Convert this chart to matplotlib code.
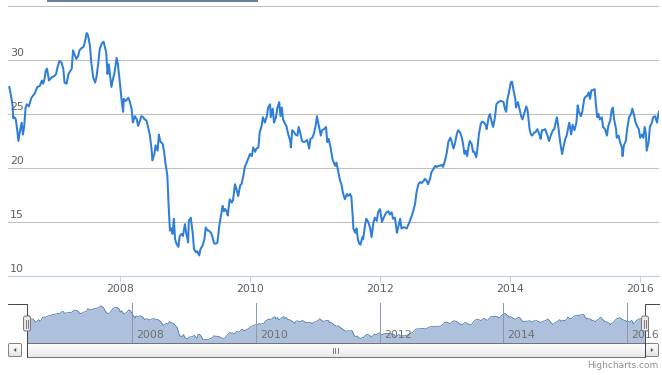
import matplotlib
matplotlib.use("Agg")
import matplotlib.pyplot as plt
import numpy as np
from matplotlib.patches import Rectangle, FancyBboxPatch, Polygon

# weekly-ish closing prices (decimal year, value)
dates = [
    2006.30, 2006.32, 2006.35, 2006.36, 2006.38, 2006.40, 2006.42, 2006.44, 2006.46, 2006.49,
    2006.51, 2006.53, 2006.55, 2006.57, 2006.60, 2006.64, 2006.69, 2006.73, 2006.77, 2006.80,
    2006.82, 2006.84, 2006.86, 2006.88, 2006.91, 2006.95, 2006.99, 2007.02, 2007.04, 2007.07,
    2007.10, 2007.13, 2007.15, 2007.18, 2007.21, 2007.23, 2007.26, 2007.28, 2007.31, 2007.33,
    2007.36, 2007.38, 2007.41, 2007.44, 2007.46, 2007.49, 2007.51, 2007.54, 2007.56, 2007.59,
    2007.62, 2007.64, 2007.67, 2007.69, 2007.72, 2007.75, 2007.79, 2007.81, 2007.83, 2007.87,
    2007.90, 2007.92, 2007.95, 2007.97, 2008.00, 2008.03, 2008.05, 2008.06, 2008.09, 2008.13,
    2008.15, 2008.18, 2008.20, 2008.23, 2008.26, 2008.28, 2008.31, 2008.33, 2008.36, 2008.38,
    2008.41, 2008.44, 2008.46, 2008.49, 2008.50, 2008.53, 2008.55, 2008.58, 2008.60, 2008.62,
    2008.66, 2008.68, 2008.70, 2008.73, 2008.75, 2008.77, 2008.79, 2008.81, 2008.83, 2008.85,
    2008.87, 2008.90, 2008.92, 2008.95, 2008.97, 2009.00, 2009.02, 2009.05, 2009.06, 2009.09,
    2009.12, 2009.14, 2009.17, 2009.19, 2009.22, 2009.24, 2009.27, 2009.30, 2009.32, 2009.35,
    2009.37, 2009.40, 2009.42, 2009.45, 2009.48, 2009.50, 2009.53, 2009.55, 2009.58, 2009.60,
    2009.62, 2009.64, 2009.66, 2009.68, 2009.69, 2009.72, 2009.74, 2009.77, 2009.79, 2009.82,
    2009.85, 2009.87, 2009.90, 2009.92, 2009.95, 2009.97, 2010.00, 2010.03, 2010.05, 2010.08,
    2010.10, 2010.13, 2010.15, 2010.18, 2010.20, 2010.23, 2010.26, 2010.28, 2010.31, 2010.32,
    2010.35, 2010.37, 2010.40, 2010.42, 2010.45, 2010.47, 2010.49, 2010.51, 2010.54, 2010.56,
    2010.59, 2010.62, 2010.63, 2010.65, 2010.68, 2010.70, 2010.73, 2010.75, 2010.78, 2010.80,
    2010.83, 2010.86, 2010.88, 2010.91, 2010.93, 2010.96, 2010.98, 2011.01, 2011.03, 2011.06,
    2011.09, 2011.11, 2011.14, 2011.17, 2011.19, 2011.21, 2011.24, 2011.27, 2011.31, 2011.33,
    2011.36, 2011.38, 2011.41, 2011.43, 2011.46, 2011.49, 2011.51, 2011.54, 2011.56, 2011.58,
    2011.59, 2011.62, 2011.64, 2011.66, 2011.68, 2011.70, 2011.73, 2011.74, 2011.77, 2011.79,
    2011.82, 2011.85, 2011.87, 2011.90, 2011.92, 2011.95, 2011.97, 2012.00, 2012.03, 2012.05,
    2012.08, 2012.10, 2012.13, 2012.15, 2012.18, 2012.20, 2012.23, 2012.26, 2012.28, 2012.31,
    2012.33, 2012.36, 2012.38, 2012.41, 2012.44, 2012.46, 2012.49, 2012.51, 2012.54, 2012.56,
    2012.59, 2012.62, 2012.64, 2012.67, 2012.69, 2012.72, 2012.74, 2012.77, 2012.79, 2012.82,
    2012.85, 2012.87, 2012.90, 2012.92, 2012.95, 2012.97, 2013.00, 2013.03, 2013.05, 2013.08,
    2013.10, 2013.13, 2013.15, 2013.18, 2013.20, 2013.23, 2013.26, 2013.28, 2013.30, 2013.32,
    2013.34, 2013.36, 2013.38, 2013.41, 2013.43, 2013.45, 2013.48, 2013.50, 2013.52, 2013.55,
    2013.57, 2013.60, 2013.63, 2013.64, 2013.67, 2013.69, 2013.72, 2013.74, 2013.77, 2013.79,
    2013.82, 2013.85, 2013.87, 2013.90, 2013.92, 2013.94, 2013.96, 2013.98, 2014.01, 2014.03,
    2014.05, 2014.08, 2014.09, 2014.12, 2014.14, 2014.17, 2014.19, 2014.22, 2014.25, 2014.27,
    2014.30, 2014.32, 2014.34, 2014.37, 2014.39, 2014.42, 2014.45, 2014.47, 2014.49, 2014.52,
    2014.54, 2014.57, 2014.60, 2014.63, 2014.66, 2014.68, 2014.69, 2014.72, 2014.74, 2014.77,
    2014.80, 2014.82, 2014.85, 2014.87, 2014.90, 2014.91, 2014.94, 2014.96, 2014.99, 2015.02,
    2015.04, 2015.06, 2015.09, 2015.11, 2015.14, 2015.16, 2015.19, 2015.21, 2015.23, 2015.25,
    2015.27, 2015.30, 2015.32, 2015.34, 2015.36, 2015.38, 2015.41, 2015.43, 2015.46, 2015.49,
    2015.51, 2015.54, 2015.56, 2015.58, 2015.60, 2015.63, 2015.64, 2015.67, 2015.69, 2015.72,
    2015.73, 2015.75, 2015.78, 2015.80, 2015.83, 2015.86, 2015.88, 2015.91, 2015.93, 2015.96,
    2015.98, 2016.00, 2016.03, 2016.05, 2016.07, 2016.09, 2016.10, 2016.13, 2016.15, 2016.18,
    2016.20, 2016.23, 2016.26, 2016.28, 2016.29,
]
prices = [
    27.5, 26.9, 25.8, 24.6, 24.7, 24.5, 23.6, 22.5, 23.3, 24.2,
    23.1, 23.9, 25.6, 25.9, 25.7, 26.5, 26.9, 27.5, 27.6, 28.1,
    27.8, 28.2, 29.0, 29.2, 28.1, 28.4, 28.5, 28.7, 29.3, 29.9,
    29.8, 29.2, 27.9, 27.8, 28.7, 28.9, 29.2, 30.9, 30.4, 30.1,
    30.4, 30.9, 31.1, 31.2, 31.6, 32.5, 32.3, 31.3, 29.8, 28.4,
    27.9, 28.4, 29.8, 31.0, 31.5, 31.7, 30.7, 28.7, 29.6, 27.5,
    28.4, 28.9, 30.2, 29.6, 27.9, 26.1, 25.2, 26.4, 26.2, 26.5,
    26.2, 25.5, 24.2, 24.8, 24.5, 23.9, 24.4, 24.8, 24.7, 24.5,
    24.4, 23.6, 23.1, 21.6, 20.7, 21.3, 22.1, 21.6, 23.1, 22.5,
    22.2, 21.5, 20.5, 19.3, 16.5, 14.2, 14.4, 13.9, 15.3, 13.4,
    13.0, 12.7, 13.7, 13.9, 13.7, 14.8, 14.0, 13.1, 15.1, 15.4,
    14.0, 12.5, 12.2, 12.3, 11.9, 12.5, 12.8, 13.4, 14.5, 14.2,
    14.2, 14.0, 13.7, 13.0, 13.0, 13.1, 14.7, 15.4, 16.5, 16.0,
    16.2, 16.0, 15.6, 16.7, 17.1, 16.8, 17.0, 18.5, 18.1, 17.4,
    18.4, 18.5, 19.3, 20.1, 20.5, 20.8, 21.3, 21.1, 21.9, 21.5,
    21.8, 21.9, 23.3, 23.9, 24.7, 24.2, 24.8, 25.6, 25.9, 24.7,
    25.5, 24.2, 24.7, 25.5, 26.1, 24.8, 25.6, 24.5, 24.1, 23.9,
    23.1, 22.5, 21.9, 23.5, 23.3, 23.1, 23.0, 23.8, 23.1, 22.5,
    22.4, 22.5, 22.6, 21.8, 22.7, 22.8, 23.1, 23.9, 24.8, 23.9,
    23.0, 23.5, 23.6, 23.8, 22.4, 22.7, 21.9, 20.8, 20.2, 20.5,
    19.6, 19.0, 18.4, 17.7, 17.1, 17.6, 17.4, 17.6, 17.3, 15.6,
    14.4, 14.0, 14.4, 13.4, 13.0, 12.9, 13.6, 13.4, 14.7, 15.3,
    15.0, 14.4, 13.6, 15.0, 15.4, 15.1, 15.9, 16.2, 15.0, 15.3,
    15.7, 15.9, 16.0, 15.7, 15.9, 15.3, 15.4, 14.0, 14.5, 15.3,
    14.4, 14.5, 14.5, 14.4, 14.8, 15.1, 15.6, 16.0, 16.7, 17.7,
    18.5, 18.7, 18.6, 18.8, 19.0, 18.8, 18.5, 19.0, 19.6, 19.9,
    20.2, 20.1, 20.2, 20.2, 20.3, 20.1, 20.7, 21.5, 22.4, 22.8,
    22.5, 21.8, 22.2, 23.1, 23.5, 23.3, 22.8, 22.1, 21.3, 21.6,
    21.1, 21.9, 22.5, 22.2, 21.5, 21.5, 21.0, 21.9, 23.1, 24.1,
    24.3, 24.2, 23.9, 23.6, 24.7, 25.0, 24.2, 23.8, 24.8, 25.9,
    26.1, 26.2, 26.2, 26.1, 25.5, 25.2, 26.4, 26.9, 27.9, 28.0,
    27.3, 26.4, 25.6, 26.1, 25.6, 24.8, 24.5, 25.1, 25.7, 25.3,
    23.6, 23.1, 23.0, 23.3, 23.3, 23.6, 23.1, 22.7, 23.5, 23.5,
    23.6, 23.1, 22.5, 23.1, 23.5, 23.6, 23.9, 24.7, 23.9, 22.4,
    21.3, 21.9, 22.7, 23.0, 23.9, 24.2, 23.1, 24.0, 23.5, 24.2,
    25.8, 25.2, 24.8, 25.2, 26.4, 26.6, 26.7, 27.0, 26.4, 27.2,
    27.2, 27.3, 25.9, 24.7, 25.0, 24.5, 24.7, 23.8, 23.6, 23.0,
    23.9, 24.4, 25.3, 25.6, 24.5, 23.6, 22.8, 23.0, 22.4, 21.9,
    21.1, 22.1, 22.5, 23.6, 24.7, 25.0, 25.5, 24.8, 24.2, 23.8,
    23.6, 22.8, 23.1, 22.8, 23.8, 23.1, 21.6, 22.4, 23.8, 24.2,
    24.7, 24.8, 24.2, 25.0, 25.2,
]
y_ticks = [10, 15, 20, 25, 30, 35]
x_ticks = [2008, 2010, 2012, 2014, 2016]

W, H = 662, 375


def box(x0, y0, x1, y1):
    # pixel box (top-left origin) -> figure fraction rect
    return [x0 / W, 1 - y1 / H, (x1 - x0) / W, (y1 - y0) / H]


fig = plt.figure(figsize=(W / 100, H / 100), dpi=100)
fig.patch.set_facecolor("white")

label_col = "#606060"
fs = 7.9

# main chart
ax = fig.add_axes(box(8, 6, 659, 276))
ax.plot(dates, prices, color="#2f7ed8", lw=1.45, solid_joinstyle="round")
ax.set_xlim(dates[0] - 0.02, dates[-1])
ax.set_ylim(y_ticks[0], y_ticks[-1])
ax.set_yticks(y_ticks)
ax.yaxis.grid(True, color="#C0C0C0", lw=0.75)
ax.tick_params(axis="y", length=0, labelleft=False)
for v in y_ticks[:-1]:
    ax.annotate(str(v), (0, v), xycoords=ax.get_yaxis_transform(),
                xytext=(1.5, 1.2), textcoords="offset points",
                ha="left", va="bottom", fontsize=fs, color=label_col)
ax.set_xticks(x_ticks)
ax.set_xticklabels([str(t) for t in x_ticks])
ax.tick_params(axis="x", length=4, width=0.75, color="#C0D0E0",
               labelsize=fs, labelcolor=label_col, pad=1.5)
for s in ["top", "left", "right"]:
    ax.spines[s].set_visible(False)
ax.spines["bottom"].set_color("#C0D0E0")
ax.spines["bottom"].set_linewidth(0.75)
ax.set_axisbelow(True)

# navigator
nav = fig.add_axes(box(27, 303, 645, 343))
nav.fill_between(dates, prices, 0, color="#aec1dc", lw=0)
nav.plot(dates, prices, color="#4572A7", lw=0.55)
nav.set_xlim(dates[0], dates[-1])
nav.set_ylim(10.1, 34.3)
for t in x_ticks:
    nav.axvline(t, color="#8a97a8", lw=0.7)
    nav.annotate(str(t), (t, 0), xycoords=nav.get_xaxis_transform(),
                 xytext=(3, 2.5), textcoords="offset points",
                 ha="left", va="bottom", fontsize=fs, color="#707070")
nav.set_xticks([])
nav.set_yticks([])
for s in nav.spines.values():
    s.set_visible(False)
nav.patch.set_alpha(0)

# overlay in pixel coordinates for the navigator chrome
ov = fig.add_axes([0, 0, 1, 1])
ov.set_xlim(0, W)
ov.set_ylim(H, 0)
ov.axis("off")
ov.patch.set_alpha(0)

ov.add_patch(Rectangle((47, 0), 211, 2, color="#6b7f96", lw=0))

# scrollbar track/thumb with gradient
grad = np.linspace(1, 0, 20).reshape(-1, 1)
ov.imshow(grad, cmap="Greys_r", vmin=-5, vmax=1.05, aspect="auto",
          extent=(27, 645, 357, 343), zorder=2)
ov.add_patch(Rectangle((27, 343), 618, 14, fill=False, ec="#707070", lw=0.7, zorder=3))
for gx in (332.5, 335, 337.5):
    ov.plot([gx, gx], [348, 353], color="#666666", lw=0.6, zorder=4)

# arrow buttons
for bx, d in ((8, -1), (645, 1)):
    ov.imshow(grad, cmap="Greys_r", vmin=-4, vmax=1.05, aspect="auto",
              extent=(bx, bx + 14, 357, 343), zorder=2)
    ov.add_patch(FancyBboxPatch((bx + 0.5, 343.5), 13, 13, boxstyle="round,pad=0,rounding_size=1.5",
                                fill=False, ec="#808080", lw=0.7, zorder=3))
    cx = bx + 7
    ov.add_patch(Polygon([(cx + 1.5 * d, 350), (cx - 1.2 * d, 348), (cx - 1.2 * d, 352)],
                         color="#555555", lw=0, zorder=4))

# outline
ov.plot([8, 27, 27], [303.5, 303.5, 357], color="#444444", lw=0.7, zorder=3)
ov.plot([659, 645, 645], [303.5, 303.5, 357], color="#444444", lw=0.7, zorder=3)

# handles
for hx in (27, 645):
    ov.add_patch(FancyBboxPatch((hx - 3.5, 316), 7, 15, boxstyle="round,pad=0,rounding_size=2",
                                fc="#ebe7e8", ec="#777777", lw=0.7, zorder=5))
    for lx in (hx - 1.2, hx + 1.2):
        ov.plot([lx, lx], [319.5, 327.5], color="#666666", lw=0.6, zorder=6)

ov.text(658, 366, "Highcharts.com", ha="right", va="center", fontsize=6.5, color="#909090")

fig.savefig("out.png", dpi=100)
